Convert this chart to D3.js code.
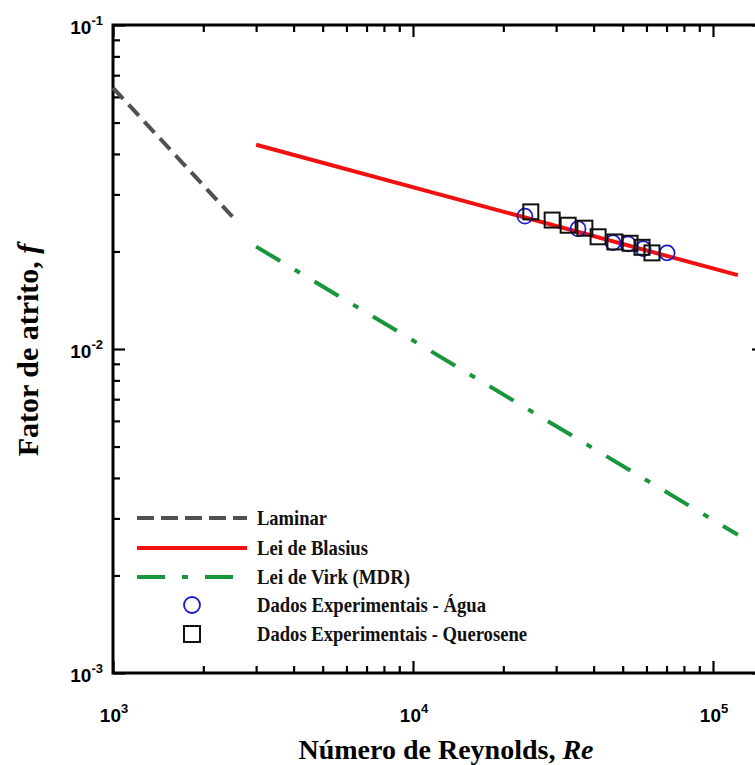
<!DOCTYPE html>
<html>
<head>
<meta charset="utf-8">
<script src="https://cdn.jsdelivr.net/npm/d3@7"></script>
<style>
body { margin: 0; background: #fff; }
svg { display: block; }
</style>
</head>
<body>
<svg id="svg1"></svg>
<script>
// curves (straight in log-log, so the end points)
const laminarRe = [1000, 2500];
const laminarF = [0.064, 0.0256];
const blasiusRe = [3000, 121000];
const blasiusF = [0.0427, 0.0169];
const virkRe = [3000, 121000];
const virkF = [0.0207, 0.00267];

// experimental points
const aguaRe = [23600, 35500, 46400, 52100, 58500, 70300];
const aguaF = [0.0257, 0.0235, 0.0213, 0.0211, 0.0204, 0.0198];
const queroseneRe = [24700, 29100, 32900, 37400, 41400, 47100, 52900, 58000, 62600];
const queroseneF = [0.0265, 0.0250, 0.0241, 0.0236, 0.0222, 0.0214, 0.0212, 0.0206, 0.0198];

const xDecades = [3, 4, 5];
const yDecades = [-3, -2, -1];
const legendLabels = ['Laminar', 'Lei de Blasius', 'Lei de Virk (MDR)',
    'Dados Experimentais - Água', 'Dados Experimentais - Querosene'];
const legendWidths = [70, 111, 153, 229, 270];

const svgWidth = 755, svgHeight = 765;
const plotLeft = 113, plotTop = 25, plotRight = 764, plotBottom = 673;

const svg = d3.select('#svg1')
    .attr('width', svgWidth)
    .attr('height', svgHeight);

const x = d3.scaleLog().domain([1e3, Math.pow(10, 5.17)]).range([plotLeft, plotRight]);
const y = d3.scaleLog().domain([1e-3, 1e-1]).range([plotBottom, plotTop]);

const isDecade = d => Math.abs(Math.log10(d) - Math.round(Math.log10(d))) < 1e-9;
const xMinor = x.ticks().filter(d => !isDecade(d));
const xMajor = x.ticks().filter(isDecade);
const yMinor = y.ticks().filter(d => !isDecade(d));
const yMajor = y.ticks().filter(isDecade);

function styleAxis(g) {
    g.select('.domain').remove();
    g.selectAll('.tick line').attr('stroke', '#000').attr('stroke-width', 2.2);
}

// inside ticks on all four sides
svg.append('g').attr('transform', `translate(0,${plotBottom})`)
    .call(d3.axisBottom(x).tickValues(xMinor).tickSize(-7).tickFormat('')).call(styleAxis);
svg.append('g').attr('transform', `translate(0,${plotBottom})`)
    .call(d3.axisBottom(x).tickValues(xMajor).tickSize(-12).tickFormat('')).call(styleAxis);
svg.append('g').attr('transform', `translate(0,${plotTop})`)
    .call(d3.axisTop(x).tickValues(xMinor).tickSize(-7).tickFormat('')).call(styleAxis);
svg.append('g').attr('transform', `translate(0,${plotTop})`)
    .call(d3.axisTop(x).tickValues(xMajor).tickSize(-12).tickFormat('')).call(styleAxis);
svg.append('g').attr('transform', `translate(${plotLeft},0)`)
    .call(d3.axisLeft(y).tickValues(yMinor).tickSize(-7).tickFormat('')).call(styleAxis);
svg.append('g').attr('transform', `translate(${plotLeft},0)`)
    .call(d3.axisLeft(y).tickValues(yMajor).tickSize(-12).tickFormat('')).call(styleAxis);
svg.append('g').attr('transform', `translate(${plotRight},0)`)
    .call(d3.axisRight(y).tickValues(yMinor).tickSize(-7).tickFormat('')).call(styleAxis);
svg.append('g').attr('transform', `translate(${plotRight},0)`)
    .call(d3.axisRight(y).tickValues(yMajor).tickSize(-12).tickFormat('')).call(styleAxis);

svg.append('rect')
    .attr('x', plotLeft).attr('y', plotTop)
    .attr('width', plotRight - plotLeft).attr('height', plotBottom - plotTop)
    .attr('fill', 'none').attr('stroke', '#000').attr('stroke-width', 3);

// tick labels 10^n
const tickFont = '"Liberation Sans", Arial, sans-serif';
for (const e of xDecades) {
    const t = svg.append('text')
        .attr('x', x(Math.pow(10, e)) + 1).attr('y', 722)
        .attr('text-anchor', 'middle')
        .style('font-family', tickFont).style('font-weight', 'bold').style('font-size', '19px');
    t.append('tspan').text('10');
    t.append('tspan').attr('dy', -9).style('font-size', '13px').text(e);
}
for (const e of yDecades) {
    const t = svg.append('text')
        .attr('x', 103).attr('y', y(Math.pow(10, e)) + 9)
        .attr('text-anchor', 'end')
        .style('font-family', tickFont).style('font-weight', 'bold').style('font-size', '19px');
    t.append('tspan').text('10');
    t.append('tspan').attr('dy', -9).style('font-size', '13px').text(e);
}

// axis titles
const serif = '"Liberation Serif", "Times New Roman", serif';
const xt = svg.append('text')
    .attr('x', 446).attr('y', 759)
    .attr('text-anchor', 'middle')
    .style('font-family', serif).style('font-weight', 'bold').style('font-size', '28px');
xt.append('tspan').text('Número de Reynolds, ');
xt.append('tspan').style('font-style', 'italic').text('Re');

const yt = svg.append('text')
    .attr('transform', 'translate(38,350) rotate(-90)')
    .attr('text-anchor', 'middle')
    .style('font-family', serif).style('font-weight', 'bold').style('font-size', '30px');
yt.append('tspan').text('Fator de atrito, ');
yt.append('tspan').style('font-style', 'italic').text('f');

// curves
const line = d3.line().x(d => x(d[0])).y(d => y(d[1]));
svg.append('path')
    .datum(d3.zip(laminarRe, laminarF))
    .attr('d', line)
    .attr('fill', 'none').attr('stroke', '#505050').attr('stroke-width', 4)
    .attr('stroke-dasharray', '15,8');
svg.append('path')
    .datum(d3.zip(blasiusRe, blasiusF))
    .attr('d', line)
    .attr('fill', 'none').attr('stroke', '#f01010').attr('stroke-width', 4);
svg.append('path')
    .datum(d3.zip(virkRe, virkF))
    .attr('d', line)
    .attr('fill', 'none').attr('stroke', '#18963c').attr('stroke-width', 4)
    .attr('stroke-dasharray', '28,17,6,17');

// experimental markers
svg.append('g').selectAll('circle')
    .data(d3.zip(aguaRe, aguaF))
    .join('circle')
    .attr('cx', d => x(d[0])).attr('cy', d => y(d[1])).attr('r', 7.5)
    .attr('fill', 'none').attr('stroke', '#1a1ad0').attr('stroke-width', 1.7);
svg.append('g').selectAll('rect')
    .data(d3.zip(queroseneRe, queroseneF))
    .join('rect')
    .attr('x', d => x(d[0]) - 7.5).attr('y', d => y(d[1]) - 7.5)
    .attr('width', 15).attr('height', 15)
    .attr('fill', 'none').attr('stroke', '#111').attr('stroke-width', 2);

// legend
const legendY = [518, 548, 577, 605, 634];
const lg = svg.append('g');
lg.append('line').attr('x1', 137).attr('x2', 247).attr('y1', legendY[0]).attr('y2', legendY[0])
    .attr('stroke', '#505050').attr('stroke-width', 4).attr('stroke-dasharray', '17,7');
lg.append('line').attr('x1', 137).attr('x2', 247).attr('y1', legendY[1]).attr('y2', legendY[1])
    .attr('stroke', '#f01010').attr('stroke-width', 4);
lg.append('line').attr('x1', 137).attr('x2', 247).attr('y1', legendY[2]).attr('y2', legendY[2])
    .attr('stroke', '#18963c').attr('stroke-width', 4).attr('stroke-dasharray', '28,17,6,17');
lg.append('circle').attr('cx', 192).attr('cy', legendY[3]).attr('r', 8)
    .attr('fill', 'none').attr('stroke', '#1a1ad0').attr('stroke-width', 1.8);
lg.append('rect').attr('x', 184).attr('y', legendY[4] - 8).attr('width', 16).attr('height', 16)
    .attr('fill', 'none').attr('stroke', '#111').attr('stroke-width', 2);
legendLabels.forEach((label, i) => {
    lg.append('text')
        .attr('x', 257).attr('y', legendY[i] + 7)
        .attr('textLength', legendWidths[i]).attr('lengthAdjust', 'spacingAndGlyphs')
        .style('font-family', serif).style('font-weight', 'bold').style('font-size', '21px')
        .style('fill', '#111')
        .text(label);
});
</script>
</body>
</html>
